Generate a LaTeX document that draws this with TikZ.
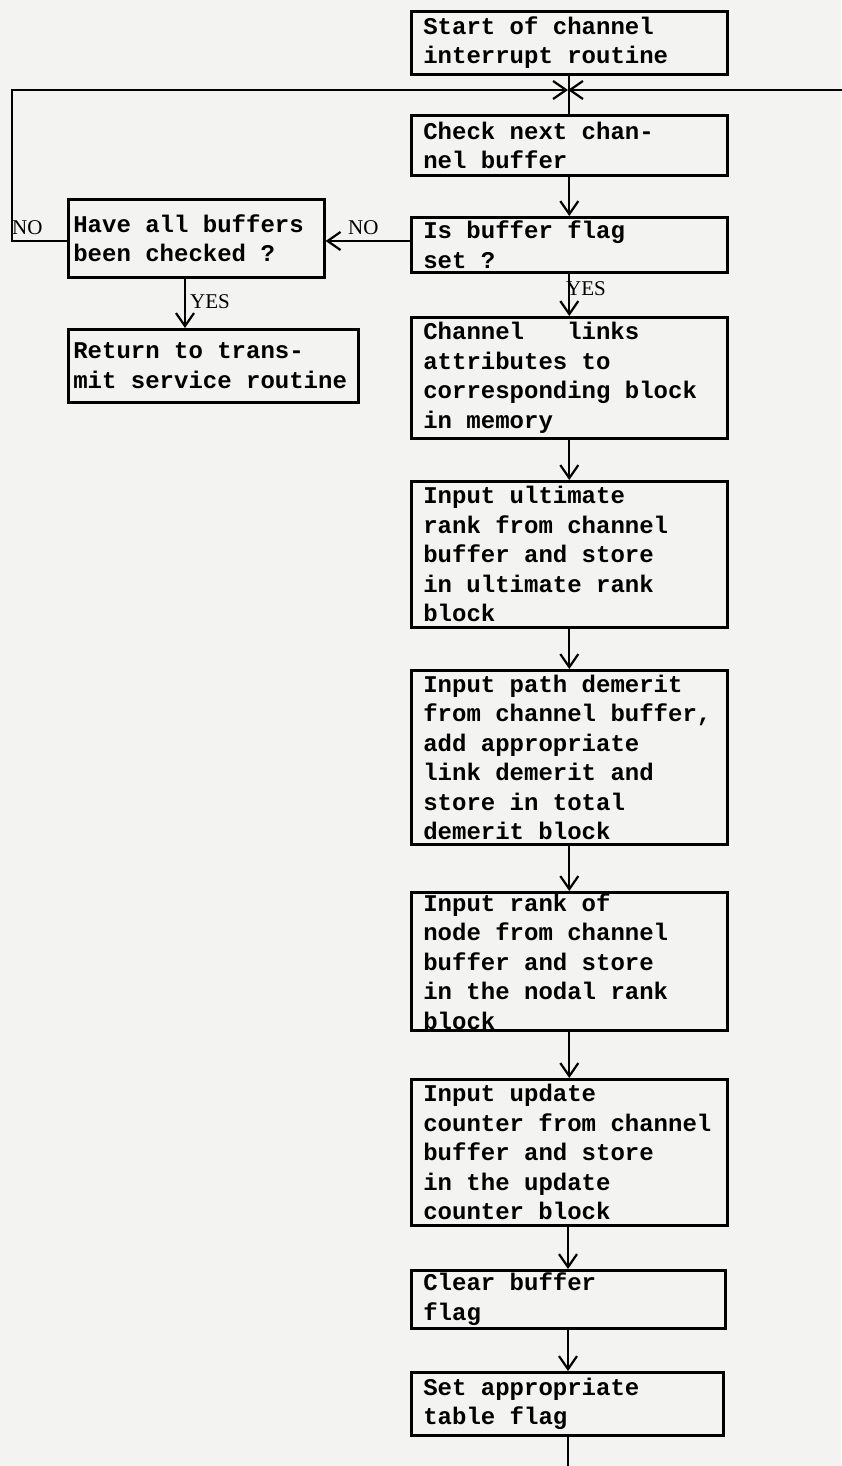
\documentclass[tikz,border=0pt]{standalone}
\usepackage{fontspec}
\usetikzlibrary{arrows.meta}
\newfontfamily\boxfont{Liberation Mono}
\newfontfamily\labfont{Liberation Serif}
\definecolor{paper}{RGB}{243,243,241}
\newcommand{\boxtext}{\boxfont\bfseries\fontsize{24}{29.5}\selectfont}
\newcommand{\monospaces}{\spaceskip=14.4pt\relax\xspaceskip=14.4pt\relax}
\begin{document}
\begin{tikzpicture}[x=1pt,y=-1pt,
  box/.style={draw, line width=2.6pt, rectangle, anchor=north west, align=left,
    inner xsep=12pt, inner ysep=0pt, font=\boxtext,
    execute at begin node=\monospaces},
  sbox/.style={box, inner xsep=5pt},
  lab/.style={font={\labfont\fontsize{21}{21}\selectfont}, inner sep=0pt, anchor=base west},
  conn/.style={line width=2.2pt},
  arr/.style={conn, -{Straight Barb[length=13pt,width=18pt]}}
]
\fill[paper] (0,0) rectangle (841,1466);
\useasboundingbox (0,0) rectangle (841,1466);

% main column
\node[box, text width=292pt, minimum height=63pt] (b1) at (410,10) {Start of channel\\interrupt routine};
\node[box, text width=292pt, minimum height=60pt] (b2) at (410,114) {Check next chan-\\nel buffer};
\node[box, text width=292pt, minimum height=55pt] (b3) at (410,216) {Is buffer flag\\set ?};
\node[box, text width=292pt, minimum height=121pt] (b4) at (410,316) {Channel\ \ \ links\\attributes to\\corresponding block\\in memory};
\node[box, text width=292pt, minimum height=146pt] (b5) at (410,480) {Input ultimate\\rank from channel\\buffer and store\\in ultimate rank\\block};
\node[box, text width=292pt, minimum height=174pt] (b6) at (410,669) {Input path demerit\\from channel buffer,\\add appropriate\\link demerit and\\store in total\\demerit block};
\node[box, text width=292pt, minimum height=138pt] (b7) at (410,891) {Input rank of\\node from channel\\buffer and store\\in the nodal rank\\block};
\node[box, text width=292pt, minimum height=146pt] (b8) at (410,1078) {Input update\\counter from channel\\buffer and store\\in the update\\counter block};
\node[box, text width=290pt, minimum height=58pt] (b9) at (410,1269) {Clear buffer\\flag};
\node[box, text width=288pt, minimum height=63pt] (b10) at (410,1371) {Set appropriate\\table flag};

% left column
\node[sbox, text width=246pt, minimum height=78pt] (h11) at (67,198) {Have all buffers\\been checked ?};
\node[sbox, text width=280pt, minimum height=73pt] (r12) at (67,328) {Return to trans-\\mit service routine};

% helper coordinates
\coordinate (junc) at (568,90);
\coordinate (redge) at (846,90);
\coordinate (ylev) at (0,241);
\coordinate (lcorner) at (12,241);
\coordinate (yesx) at (185,0);
\coordinate (bot) at (568,1472);

% connectors
\draw[conn] (b1.south) -- (b2.north);
\draw[arr] (h11.west |- ylev) -- (lcorner) |- (junc);
\draw[arr] (redge) -- (junc);
\draw[arr] (b2.south) -- (b3.north);
\draw[arr] (b3.west |- ylev) -- (h11.east |- ylev);
\draw[arr] (b3.south) -- (b4.north);
\draw[arr] (yesx |- h11.south) -- (yesx |- r12.north);
\draw[arr] (b4.south) -- (b5.north);
\draw[arr] (b5.south) -- (b6.north);
\draw[arr] (b6.south) -- (b7.north);
\draw[arr] (b7.south) -- (b8.north);
\draw[arr] (b8.south -| junc) -- (b9.north -| junc);
\draw[arr] (b9.south -| junc) -- (b10.north -| junc);
\draw[conn] (b10.south -| junc) -- (bot);

% labels
\node[lab] (nol) at (12,234) {NO};
\node[lab] (nor) at (348,234) {NO};
\node[lab] (yesl) at (190,308) {YES};
\node[lab] (yesr) at (566,295) {YES};
\end{tikzpicture}
\end{document}
